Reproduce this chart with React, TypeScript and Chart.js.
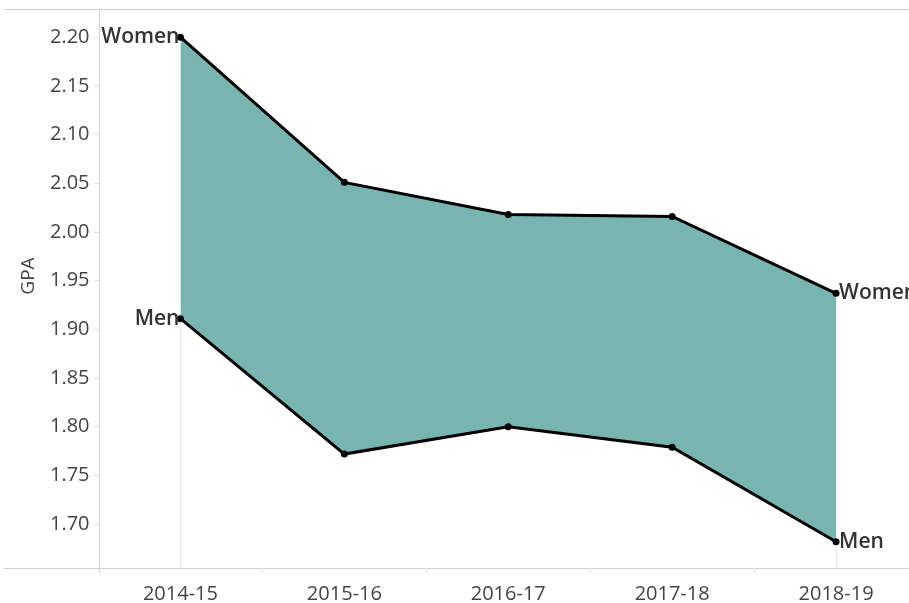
import React, { useEffect, useRef } from "react";
import { Chart, registerables } from "chart.js";

Chart.register(...registerables);

const categories = ["2014-15", "2015-16", "2016-17", "2017-18", "2018-19"];
const womenGPA = [2.2, 2.051, 2.018, 2.016, 1.937];
const menGPA = [1.911, 1.772, 1.8, 1.779, 1.682];
const yTicks = [1.7, 1.75, 1.8, 1.85, 1.9, 1.95, 2.0, 2.05, 2.1, 2.15, 2.2];
const yTitle = "GPA";
const seriesNames = ["Women", "Men"];

const FONT = "'Open Sans', 'Noto Sans', sans-serif";

const framePlugin = {
  id: "frame",
  beforeDatasetsDraw(chart: any) {
    const { ctx, chartArea } = chart;
    const menMeta = chart.getDatasetMeta(1);
    ctx.save();
    ctx.strokeStyle = "#e2efed";
    ctx.lineWidth = 1;
    [0, categories.length - 1].forEach((i) => {
      const pt = menMeta.data[i];
      const px = Math.round(pt.x) + 0.5;
      ctx.beginPath();
      ctx.moveTo(px, pt.y);
      ctx.lineTo(px, chartArea.bottom);
      ctx.stroke();
    });
    ctx.restore();
  },
  afterDraw(chart: any) {
    const { ctx, chartArea, scales } = chart;
    const x = scales.x;
    ctx.save();
    ctx.strokeStyle = "#d0d0d0";
    ctx.lineWidth = 1;
    ctx.beginPath();
    ctx.moveTo(4, Math.round(chartArea.top) + 0.5);
    ctx.lineTo(chart.width, Math.round(chartArea.top) + 0.5);
    ctx.stroke();
    ctx.beginPath();
    ctx.moveTo(4, Math.round(chartArea.bottom) + 0.5);
    ctx.lineTo(chart.width, Math.round(chartArea.bottom) + 0.5);
    ctx.stroke();
    ctx.beginPath();
    ctx.moveTo(Math.round(chartArea.left) + 0.5, chartArea.top);
    ctx.lineTo(Math.round(chartArea.left) + 0.5, chartArea.bottom + 5);
    ctx.stroke();
    ctx.strokeStyle = "#e4e4e4";
    for (let i = 0; i < categories.length - 1; i++) {
      const px = Math.round((x.getPixelForValue(i) + x.getPixelForValue(i + 1)) / 2) + 0.5;
      ctx.beginPath();
      ctx.moveTo(px, chartArea.bottom);
      ctx.lineTo(px, chartArea.bottom + 5);
      ctx.stroke();
    }
    ctx.fillStyle = "#444";
    ctx.font = `19px ${FONT}`;
    ctx.textAlign = "center";
    ctx.textBaseline = "middle";
    ctx.translate(29, 276);
    ctx.rotate(-Math.PI / 2);
    ctx.fillText(yTitle, 0, 0);
    ctx.restore();

    ctx.save();
    ctx.font = `600 21px ${FONT}`;
    ctx.fillStyle = "#333";
    ctx.textBaseline = "middle";
    chart.data.datasets.forEach((ds: any, di: number) => {
      const meta = chart.getDatasetMeta(di);
      const first = meta.data[0];
      const last = meta.data[meta.data.length - 1];
      ctx.textAlign = "right";
      ctx.fillText(seriesNames[di], first.x - 1, first.y);
      ctx.textAlign = "left";
      ctx.fillText(seriesNames[di], last.x + 3, last.y);
    });
    ctx.restore();
  },
};

export default function App() {
  const ref = useRef<HTMLCanvasElement>(null);
  useEffect(() => {
    if (!ref.current) return;
    const chart = new Chart(ref.current, {
      type: "line",
      data: {
        labels: categories,
        datasets: [
          {
            label: seriesNames[0],
            data: womenGPA,
            borderColor: "#000",
            borderWidth: 3,
            pointRadius: 3.5,
            pointBackgroundColor: "#000",
            pointBorderWidth: 0,
            fill: "+1",
            backgroundColor: "#79b5b0",
            tension: 0,
          },
          {
            label: seriesNames[1],
            data: menGPA,
            borderColor: "#000",
            borderWidth: 3,
            pointRadius: 3.5,
            pointBackgroundColor: "#000",
            pointBorderWidth: 0,
            fill: false,
            tension: 0,
          },
        ],
      },
      options: {
        responsive: false,
        animation: false,
        layout: { padding: { top: 9, right: 12, left: 0, bottom: 0 } },
        plugins: {
          legend: { display: false },
          tooltip: { enabled: false },
          filler: { drawTime: "beforeDatasetsDraw" },
        } as any,
        scales: {
          x: {
            type: "category",
            offset: true,
            grid: { display: false },
            border: { display: false },
            ticks: {
              color: "#444",
              font: { family: FONT, size: 20 },
              padding: 6,
              maxRotation: 0,
            },
            afterFit(scale: any) {
              scale.height = 35;
              scale.paddingLeft = 0;
              scale.paddingRight = 0;
            },
          },
          y: {
            min: 1.655,
            max: 2.229,
            border: { display: false },
            grid: {
              drawOnChartArea: false,
              drawTicks: true,
              tickLength: 5,
              color: "#e4e4e4",
            },
            ticks: {
              color: "#444",
              font: { family: FONT, size: 20 },
              padding: 4,
              callback: (v: any) => Number(v).toFixed(2),
            },
            afterBuildTicks(scale: any) {
              scale.ticks = yTicks.map((v) => ({ value: v }));
            },
            afterFit(scale: any) {
              scale.width = 98.5;
              scale.paddingTop = 0;
              scale.paddingBottom = 0;
            },
          },
        },
      },
      plugins: [framePlugin],
    });
    return () => chart.destroy();
  }, []);
  return (
    <div
      style={{
        position: "fixed",
        left: 0,
        top: 0,
        width: 909,
        height: 603,
        overflow: "hidden",
        background: "#fff",
      }}
    >
      <canvas ref={ref} width={930} height={603} style={{ display: "block" }} />
    </div>
  );
}
